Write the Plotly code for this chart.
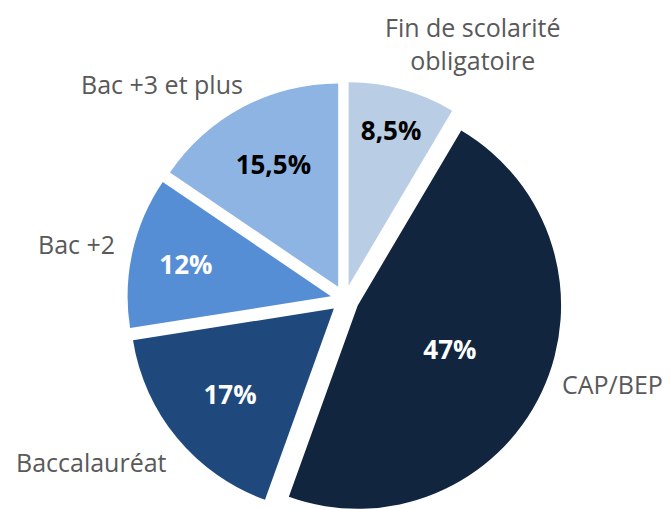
import plotly.graph_objects as go

labels = ["Fin de scolarité<br>obligatoire", "CAP/BEP", "Baccalauréat", "Bac +2", "Bac +3 et plus"]
values = [8.5, 47, 17, 12, 15.5]
colors = ["#b9cde5", "#12253f", "#1f497d", "#558ed5", "#8eb4e3"]
pct_colors = ["#000000", "#ffffff", "#ffffff", "#ffffff", "#000000"]
pct_text = [(f"{v:g}%").replace(".", ",") for v in values]

# label placement (paper coords) - layout only
label_x = [0.692, 0.979, 0.125, 0.102, 0.230]
label_y = [1.0, 0.262, 0.108, 0.537, 0.851]
label_xanchor = ["center", "right", "center", "center", "center"]
label_yanchor = ["top", "middle", "middle", "middle", "middle"]

pull = [0.07] * len(values)
domain = dict(x=[0.08, 0.924], y=[0.0, 0.855])

fig = go.Figure()
fig.add_trace(go.Pie(
    labels=labels, values=values, sort=False, direction="clockwise", rotation=0,
    marker=dict(colors=colors, line=dict(width=0)),
    text=pct_text, textinfo="text", textposition="inside",
    insidetextorientation="horizontal",
    textfont=dict(family="Open Sans", size=26, color=pct_colors, weight="bold"),
    pull=pull, domain=domain, showlegend=False, hoverinfo="skip",
))
for lab, lx, ly, xa, ya in zip(labels, label_x, label_y, label_xanchor, label_yanchor):
    fig.add_annotation(
        x=lx, y=ly, xref="paper", yref="paper", text=lab, showarrow=False,
        xanchor=xa, yanchor=ya,
        font=dict(family="Open Sans", size=25, color="#595959"),
    )
fig.update_layout(
    width=671, height=509,
    margin=dict(l=0, r=0, t=0, b=0),
    paper_bgcolor="white", plot_bgcolor="white",
)
fig.write_html("out.html")
